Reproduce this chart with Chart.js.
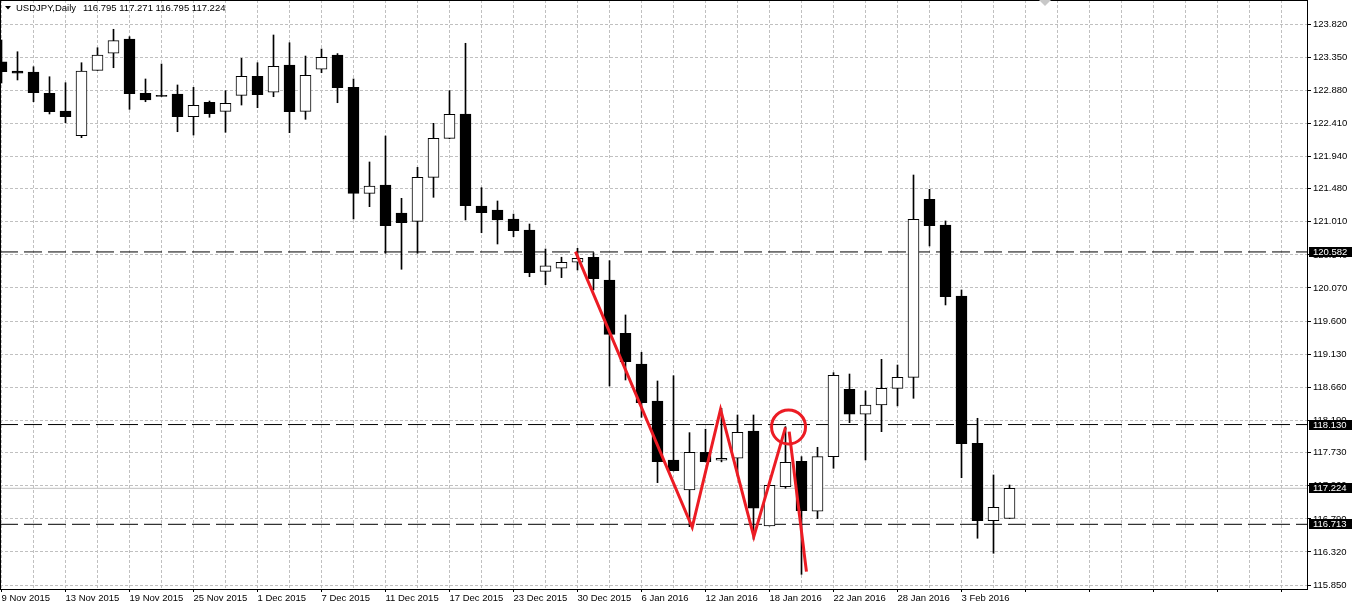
<!DOCTYPE html>
<html><head><meta charset="utf-8">
<script src="https://cdn.jsdelivr.net/npm/chart.js@4.4.1/dist/chart.umd.min.js"></script>
<style>html,body{margin:0;padding:0;background:#fff;overflow:hidden}canvas{display:block}</style>
</head><body>
<canvas id="c" width="1352" height="607"></canvas>
<script>
const symbol = 'USDJPY';
const timeframe = 'Daily';
const dates = ['9 Nov 2015','10 Nov 2015','11 Nov 2015','12 Nov 2015','13 Nov 2015','16 Nov 2015','17 Nov 2015','18 Nov 2015','19 Nov 2015','20 Nov 2015','23 Nov 2015','24 Nov 2015','25 Nov 2015','26 Nov 2015','27 Nov 2015','30 Nov 2015','1 Dec 2015','2 Dec 2015','3 Dec 2015','4 Dec 2015','7 Dec 2015','8 Dec 2015','9 Dec 2015','10 Dec 2015','11 Dec 2015','14 Dec 2015','15 Dec 2015','16 Dec 2015','17 Dec 2015','18 Dec 2015','21 Dec 2015','22 Dec 2015','23 Dec 2015','24 Dec 2015','28 Dec 2015','29 Dec 2015','30 Dec 2015','31 Dec 2015','4 Jan 2016','5 Jan 2016','6 Jan 2016','7 Jan 2016','8 Jan 2016','11 Jan 2016','12 Jan 2016','13 Jan 2016','14 Jan 2016','15 Jan 2016','18 Jan 2016','19 Jan 2016','20 Jan 2016','21 Jan 2016','22 Jan 2016','25 Jan 2016','26 Jan 2016','27 Jan 2016','28 Jan 2016','29 Jan 2016','1 Feb 2016','2 Feb 2016','3 Feb 2016','4 Feb 2016','5 Feb 2016','8 Feb 2016'];
const opens  = [123.284,123.152,123.138,122.836,122.584,122.233,123.162,123.404,123.607,122.836,122.808,122.826,122.503,122.708,122.580,122.807,123.077,122.850,123.238,122.580,123.177,123.380,122.921,121.415,121.533,121.135,121.017,121.642,122.196,122.542,121.235,121.178,121.050,120.894,120.307,120.350,120.436,120.506,120.184,119.426,118.990,118.465,117.627,117.201,117.737,117.623,117.651,118.039,116.689,117.248,117.608,116.898,117.674,118.631,118.276,118.408,118.645,118.801,121.330,120.965,119.956,117.864,116.765,116.795];
const highs  = [123.593,123.426,123.213,123.071,122.986,123.270,123.483,123.745,123.640,123.039,123.252,122.954,122.921,122.726,122.873,123.333,123.270,123.664,123.554,123.365,123.465,123.400,123.039,121.860,122.229,121.344,121.784,122.409,122.873,123.546,121.495,121.306,121.120,120.979,120.624,120.507,120.634,120.572,120.458,119.687,119.157,118.749,118.824,118.015,118.064,118.361,118.266,118.266,117.267,118.100,117.674,117.807,118.867,118.848,118.607,119.057,118.976,121.675,121.472,121.022,120.042,118.219,117.414,117.271];
const lows   = [122.982,123.025,122.716,122.542,122.418,122.205,123.162,123.199,122.608,122.716,122.790,122.290,122.243,122.495,122.282,122.669,122.631,122.787,122.276,122.466,123.128,122.702,121.050,121.225,120.563,120.336,120.563,121.358,122.190,121.036,120.855,120.695,120.799,120.230,120.117,120.217,120.326,120.042,118.678,118.763,118.233,117.305,117.470,116.679,117.600,117.600,117.400,116.500,116.689,117.225,116.002,116.793,117.509,118.157,117.627,118.029,118.395,118.503,120.667,119.829,117.375,116.515,116.302,116.795];
const closes = [123.142,123.120,122.844,122.574,122.503,123.152,123.380,123.583,122.830,122.740,122.790,122.503,122.665,122.546,122.694,123.077,122.816,123.219,122.574,123.091,123.347,122.915,121.415,121.519,120.955,120.998,121.642,122.196,122.537,121.239,121.141,121.036,120.884,120.287,120.383,120.436,120.493,120.202,119.412,119.023,118.441,117.603,117.476,117.737,117.603,117.651,118.020,116.942,117.267,117.594,116.907,117.674,118.830,118.276,118.408,118.645,118.801,121.046,120.955,119.946,117.859,116.765,116.955,117.224];
const yTickValues = [115.850,116.320,116.790,117.260,117.730,118.190,118.660,119.130,119.600,120.070,120.540,121.010,121.480,121.940,122.410,122.880,123.350,123.820];
const levelLines = [120.582, 118.130, 116.713];
const bidPrice = 117.224;
const zigzagX = [35.875, 43.17, 44.94, 47.02, 49.0];
const zigzagY = [120.586, 116.671, 118.344, 116.537, 118.091];
const strokeX = [49.23, 50.31];
const strokeY = [118.029, 116.040];
const circleX = [49.19];
const circleY = [118.096];

const X_MIN = -0.09375, X_MAX = 81.59375;
const Y_MIN = 115.794, Y_MAX = 124.161;
const FONT_FAMILY = "'Liberation Sans', Arial, sans-serif";
const FONT_SIZE = 9.5;
const RED = 'rgb(236,28,36)';
const GRID = '#c0c0c0';

const idx = dates.map((d, i) => i);
const bodyData = idx.map(i => ({x: i, y: [opens[i], closes[i]]}));
const wickData = idx.map(i => ({x: i, y: [lows[i], highs[i]]}));
const bodyColors = idx.map(i => closes[i] < opens[i] ? '#000' : '#fff');
const hline = v => [{x: X_MIN, y: v}, {x: X_MAX, y: v}];

const decor = {
  id: 'decor',
  afterDraw(chart) {
    const {ctx, chartArea: a} = chart;
    const y = chart.scales.y;
    ctx.save();
    ctx.fillStyle = '#000';
    ctx.fillRect(a.left, a.top, a.right - a.left, 1);
    ctx.fillRect(a.left, a.top, 1, a.bottom - a.top);
    ctx.fillStyle = '#c8c8c8';
    ctx.beginPath(); ctx.moveTo(1039, 0); ctx.lineTo(1051, 0); ctx.lineTo(1045, 6); ctx.closePath(); ctx.fill();
    ctx.fillStyle = '#000';
    ctx.font = FONT_SIZE + 'px ' + FONT_FAMILY;
    ctx.textBaseline = 'middle';
    ctx.beginPath(); ctx.moveTo(5, 6); ctx.lineTo(11, 6); ctx.lineTo(8, 9.5); ctx.closePath(); ctx.fill();
    ctx.fillText(symbol + ',' + timeframe, 16, 8);
    const L = opens.length - 1;
    ctx.fillText([opens[L], highs[L], lows[L], closes[L]].map(v => v.toFixed(3)).join(' '), 83, 8);
    [...levelLines, bidPrice].forEach(v => {
      const py = Math.round(y.getPixelForValue(v));
      ctx.fillStyle = '#000';
      ctx.fillRect(a.right + 2, py - 5, chart.width - a.right - 2, 10);
      ctx.fillStyle = '#fff';
      ctx.fillText(v.toFixed(3), a.right + 6, py);
    });
    ctx.restore();
  }
};

Chart.defaults.font.family = FONT_FAMILY;
Chart.defaults.font.size = FONT_SIZE;
Chart.defaults.color = '#000';

new Chart(document.getElementById('c'), {
  type: 'bar',
  data: {
    datasets: [
      {type: 'line', data: zigzagX.map((x, i) => ({x, y: zigzagY[i]})), borderColor: RED, borderWidth: 3, pointRadius: 0, tension: 0, order: 0},
      {type: 'line', data: strokeX.map((x, i) => ({x, y: strokeY[i]})), borderColor: RED, borderWidth: 3, pointRadius: 0, tension: 0, order: 0},
      {type: 'line', data: circleX.map((x, i) => ({x, y: circleY[i]})), showLine: false, pointRadius: 17, pointBorderWidth: 3, pointBorderColor: RED, pointBackgroundColor: 'rgba(0,0,0,0)', order: 0},
      {type: 'bar', data: bodyData, backgroundColor: bodyColors, borderColor: '#000', borderWidth: 1, borderSkipped: false, barThickness: 11, grouped: false, order: 1},
      {type: 'bar', data: wickData, backgroundColor: '#000', borderWidth: 0, barThickness: 1, grouped: false, order: 2},
      ...levelLines.map(v => ({type: 'line', data: hline(v), borderColor: '#000', borderWidth: 1, borderDash: [18, 6], pointRadius: 0, order: 3})),
      {type: 'line', data: hline(bidPrice), borderColor: GRID, borderWidth: 1, pointRadius: 0, order: 4}
    ]
  },
  options: {
    responsive: false,
    animation: false,
    devicePixelRatio: 1,
    events: [],
    layout: {padding: 0, autoPadding: false},
    plugins: {legend: {display: false}, tooltip: {enabled: false}},
    scales: {
      x: {
        type: 'linear', position: 'bottom', min: X_MIN, max: X_MAX, offset: false, bounds: 'data',
        afterBuildTicks: s => { const t = []; for (let v = 0; v <= 80; v += 2) t.push({value: v}); s.ticks = t; },
        afterFit: s => { s.height = 18; s.paddingLeft = 0; s.paddingRight = 0; },
        grid: {color: GRID, offset: false, tickLength: 3, tickColor: c => (c.tick && c.tick.value % 4 === 0) ? '#000' : 'rgba(0,0,0,0)'},
        border: {color: '#000', width: 1, dash: [3, 2]},
        ticks: {autoSkip: false, maxRotation: 0, minRotation: 0, align: 'start', padding: 1,
          callback: v => (v % 4 === 0 && v < dates.length) ? dates[v] : ''}
      },
      y: {
        type: 'linear', position: 'right', min: Y_MIN, max: Y_MAX, bounds: 'data',
        afterBuildTicks: s => { s.ticks = yTickValues.map(v => ({value: v})); },
        afterFit: s => { s.width = 45; s.paddingTop = 0; s.paddingBottom = 0; },
        grid: {color: GRID, tickLength: 4, tickColor: '#000'},
        border: {color: '#000', width: 1, dash: [3, 2]},
        ticks: {autoSkip: false, padding: 2, callback: v => v.toFixed(3)}
      }
    }
  },
  plugins: [decor]
});
</script>
</body></html>
